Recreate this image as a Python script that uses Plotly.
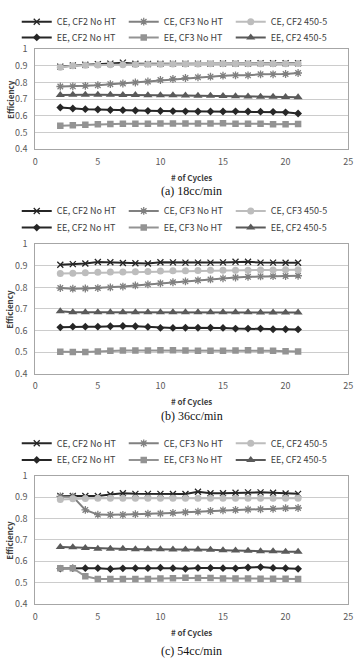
import plotly.graph_objects as go

cycles = list(range(2, 22))

# (a) 18cc/min
a_ce_cf2_noht = [0.895, 0.902, 0.906, 0.910, 0.913, 0.919, 0.912, 0.911, 0.912, 0.913,
                 0.913, 0.913, 0.913, 0.914, 0.914, 0.914, 0.915, 0.915, 0.915, 0.915]
a_ce_cf3_noht = [0.776, 0.777, 0.780, 0.784, 0.790, 0.794, 0.800, 0.806, 0.815, 0.821,
                 0.827, 0.831, 0.835, 0.841, 0.843, 0.843, 0.849, 0.849, 0.851, 0.857]
a_ce_cf2_450 = [0.892, 0.900, 0.903, 0.905, 0.906, 0.907, 0.908, 0.909, 0.910, 0.911,
                0.911, 0.911, 0.912, 0.912, 0.912, 0.913, 0.913, 0.913, 0.913, 0.914]
a_ee_cf2_noht = [0.650, 0.644, 0.640, 0.638, 0.635, 0.634, 0.632, 0.630, 0.629, 0.628,
                 0.627, 0.626, 0.626, 0.626, 0.627, 0.626, 0.625, 0.624, 0.621, 0.614]
a_ee_cf3_noht = [0.540, 0.543, 0.546, 0.549, 0.551, 0.552, 0.553, 0.553, 0.554, 0.554,
                 0.554, 0.554, 0.554, 0.555, 0.553, 0.553, 0.552, 0.550, 0.550, 0.551]
a_ee_cf2_450 = [0.725, 0.727, 0.727, 0.726, 0.726, 0.725, 0.725, 0.724, 0.724, 0.723,
                0.722, 0.721, 0.720, 0.719, 0.718, 0.716, 0.715, 0.714, 0.713, 0.712]

# (b) 36cc/min
b_ce_cf2_noht = [0.905, 0.908, 0.911, 0.918, 0.917, 0.913, 0.912, 0.911, 0.917, 0.916,
                 0.915, 0.915, 0.915, 0.916, 0.919, 0.919, 0.915, 0.915, 0.914, 0.914]
b_ce_cf3_noht = [0.797, 0.794, 0.795, 0.797, 0.800, 0.804, 0.809, 0.814, 0.819, 0.824,
                 0.828, 0.833, 0.837, 0.842, 0.846, 0.849, 0.851, 0.852, 0.853, 0.854]
b_ce_cf3_450 = [0.865, 0.866, 0.868, 0.870, 0.871, 0.872, 0.873, 0.874, 0.876, 0.877,
                0.877, 0.878, 0.879, 0.879, 0.880, 0.880, 0.881, 0.881, 0.882, 0.882]
b_ee_cf2_noht = [0.615, 0.618, 0.618, 0.618, 0.620, 0.621, 0.620, 0.617, 0.612, 0.612,
                 0.613, 0.613, 0.613, 0.612, 0.609, 0.609, 0.609, 0.606, 0.606, 0.605]
b_ee_cf3_noht = [0.502, 0.500, 0.500, 0.503, 0.506, 0.507, 0.507, 0.507, 0.509, 0.509,
                 0.507, 0.506, 0.506, 0.506, 0.507, 0.509, 0.507, 0.506, 0.504, 0.503]
b_ee_cf2_450 = [0.689, 0.685, 0.685, 0.685, 0.685, 0.685, 0.685, 0.685, 0.685, 0.685,
                0.685, 0.685, 0.685, 0.685, 0.685, 0.685, 0.684, 0.684, 0.684, 0.684]

# (c) 54cc/min
c_ce_cf2_noht = [0.905, 0.905, 0.905, 0.905, 0.912, 0.918, 0.915, 0.915, 0.915, 0.914,
                 0.914, 0.925, 0.918, 0.918, 0.920, 0.922, 0.922, 0.920, 0.917, 0.915]
c_ce_cf3_noht = [0.903, 0.902, 0.840, 0.818, 0.817, 0.817, 0.820, 0.822, 0.823, 0.826,
                 0.829, 0.832, 0.835, 0.838, 0.840, 0.842, 0.843, 0.845, 0.848, 0.849]
c_ce_cf2_450 = [0.889, 0.892, 0.893, 0.894, 0.894, 0.894, 0.894, 0.894, 0.894, 0.894,
                0.894, 0.894, 0.894, 0.894, 0.894, 0.894, 0.894, 0.894, 0.894, 0.894]
c_ee_cf2_noht = [0.566, 0.568, 0.568, 0.568, 0.564, 0.567, 0.568, 0.568, 0.570, 0.568,
                 0.565, 0.569, 0.569, 0.568, 0.567, 0.571, 0.573, 0.569, 0.568, 0.565]
c_ee_cf3_noht = [0.567, 0.568, 0.530, 0.517, 0.517, 0.517, 0.517, 0.517, 0.520, 0.521,
                 0.523, 0.522, 0.522, 0.520, 0.520, 0.520, 0.519, 0.519, 0.519, 0.517]
c_ee_cf2_450 = [0.667, 0.665, 0.662, 0.659, 0.658, 0.658, 0.656, 0.656, 0.656, 0.655,
                0.655, 0.655, 0.654, 0.652, 0.650, 0.649, 0.647, 0.647, 0.645, 0.645]

captions = ["(a) 18cc/min", "(b) 36cc/min", "(c) 54cc/min"]
x_ticks = [0, 5, 10, 15, 20, 25]
y_ticks = [0.4, 0.5, 0.6, 0.7, 0.8, 0.9, 1]

W, H = 360, 665
def py(p):  # pixel row -> paper y
    return 1 - p / H

# styles per series slot
styles = [
    dict(color="#262626", symbol="x-thin-open", size=6),
    dict(color="#808080", symbol="asterisk-open", size=6.5),
    dict(color="#bdbdbd", symbol="circle", size=7),
    dict(color="#262626", symbol="diamond", size=6),
    dict(color="#939393", symbol="square", size=6.5),
    dict(color="#5a5a5a", symbol="triangle-up", size=8),
]

panels = [
    dict(names=["CE, CF2 No HT", "CE, CF3 No HT", "CE, CF2 450-5",
                "EE, CF2 No HT", "EE, CF3 No HT", "EE, CF2 450-5"],
         data=[a_ce_cf2_noht, a_ce_cf3_noht, a_ce_cf2_450,
               a_ee_cf2_noht, a_ee_cf3_noht, a_ee_cf2_450],
         top=43, bottom=145, leg=(15, 31), tick=158, title=174, cap=188),
    dict(names=["CE, CF2 No HT", "CE, CF3 No HT", "CE, CF3 450-5",
                "EE, CF2 No HT", "EE, CF3 No HT", "EE, CF2 450-5"],
         data=[b_ce_cf2_noht, b_ce_cf3_noht, b_ce_cf3_450,
               b_ee_cf2_noht, b_ee_cf3_noht, b_ee_cf2_450],
         top=242, bottom=374, leg=(208, 225), tick=387, title=402, cap=417),
    dict(names=["CE, CF2 No HT", "CE, CF3 No HT", "CE, CF2 450-5",
                "EE, CF2 No HT", "EE, CF3 No HT", "EE, CF2 450-5"],
         data=[c_ce_cf2_noht, c_ce_cf3_noht, c_ce_cf2_450,
               c_ee_cf2_noht, c_ee_cf3_noht, c_ee_cf2_450],
         top=478, bottom=609, leg=(445, 462), tick=622, title=638, cap=657),
]

fig = go.Figure()
layout = dict(width=W, height=H, margin=dict(l=0, r=0, t=0, b=0),
              paper_bgcolor="white", plot_bgcolor="white", annotations=[])
xd = [33 / W, 353 / W]
cx = (xd[0] + xd[1]) / 2

for i, p in enumerate(panels):
    ax = "" if i == 0 else str(i + 1)
    xa, ya = "x" + ax, "y" + ax
    leg1 = "legend" if i == 0 else "legend%d" % (2 * i + 1)
    leg2 = "legend%d" % (2 * i + 2)
    for k, (nm, vals) in enumerate(zip(p["names"], p["data"])):
        st = styles[k]
        mk = dict(symbol=st["symbol"], size=st["size"], color=st["color"])
        if "open" in st["symbol"]:
            mk["line"] = dict(color=st["color"], width=1.3)
        fig.add_trace(go.Scatter(
            x=cycles, y=vals, name=nm, mode="lines+markers",
            line=dict(color=st["color"], width=2), marker=mk,
            xaxis=xa, yaxis=ya, legend=leg1 if k < 3 else leg2,
        ))
    layout["xaxis" + ax] = dict(
        domain=xd, range=[0, 25], tickvals=x_ticks, showgrid=False, zeroline=False,
        showline=True, mirror=True, linecolor="#a6a6a6", linewidth=1,
        ticks="", tickfont=dict(family="Noto Sans CJK KR", size=9, color="#595959"),
        ticklabelstandoff=4, anchor=ya, fixedrange=True)
    layout["yaxis" + ax] = dict(
        domain=[py(p["bottom"]), py(p["top"])], range=[0.4, 1], tickvals=y_ticks,
        ticktext=["0.4", "0.5", "0.6", "0.7", "0.8", "0.9", "1"],
        showgrid=True, gridcolor="#cccccc", gridwidth=1, zeroline=False,
        showline=True, mirror=True, linecolor="#a6a6a6", linewidth=1,
        ticks="", tickfont=dict(family="Noto Sans CJK KR", size=9, color="#595959"),
        ticklabelstandoff=5, anchor=xa, fixedrange=True)
    for lg, row in ((leg1, p["leg"][0]), (leg2, p["leg"][1])):
        layout[lg] = dict(orientation="h", x=0.495, xanchor="center",
                          y=py(row), yanchor="middle", bgcolor="rgba(0,0,0,0)",
                          entrywidth=62, entrywidthmode="pixels",
                          font=dict(family="Noto Sans CJK KR", size=9, color="#404040"),
                          itemclick=False, itemdoubleclick=False)
    layout["annotations"] += [
        dict(text="Efficiency", textangle=-90, x=7 / W, y=py((p["top"] + p["bottom"]) / 2),
             xref="paper", yref="paper", showarrow=False, xanchor="center", yanchor="middle",
             font=dict(family="Noto Sans CJK KR", size=8, color="#404040", weight="bold")),
        dict(text="# of Cycles", x=cx, y=py(p["title"]), xref="paper", yref="paper",
             showarrow=False, xanchor="center", yanchor="middle",
             font=dict(family="Noto Sans CJK KR", size=8, color="#404040", weight="bold")),
        dict(text=captions[i], x=cx, y=py(p["cap"]), xref="paper", yref="paper",
             showarrow=False, xanchor="center", yanchor="middle",
             font=dict(family="Liberation Serif", size=12, color="#111111")),
    ]

fig.update_layout(**layout)
fig.write_html("out.html")
